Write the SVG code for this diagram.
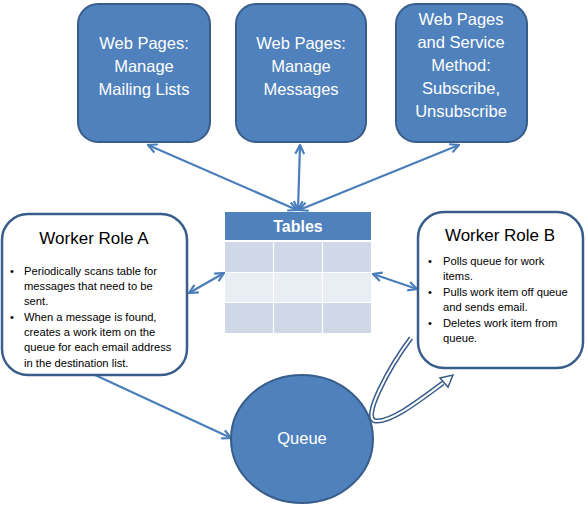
<svg xmlns="http://www.w3.org/2000/svg" width="588" height="505" viewBox="0 0 588 505">
<defs>
<style>
.box{fill:#4f81bd;stroke:#385d8a;stroke-width:2}
.wr{fill:#fff;stroke:#385d8a;stroke-width:2.5}
.wt{font-family:"Liberation Sans",Arial,sans-serif;font-size:16.5px;fill:#fff;text-anchor:middle}
.tt{font-family:"Liberation Sans",Arial,sans-serif;font-size:17px;fill:#000;text-anchor:middle}
.bt{font-family:"Liberation Sans",Arial,sans-serif;font-size:11.2px;fill:#000}
.conn{fill:none;stroke:#4a7ebb;stroke-width:2.2}
</style>
<marker id="ah" viewBox="0 0 10 10" refX="9" refY="5" markerWidth="5" markerHeight="5" orient="auto-start-reverse" markerUnits="strokeWidth">
<path d="M1,1 L9,5 L1,9" fill="none" stroke="#4a7ebb" stroke-width="2"/>
</marker>
</defs>
<g id="connectors">
<line class="conn" x1="297" y1="210" x2="148" y2="145" marker-start="url(#ah)" marker-end="url(#ah)"/>
<line class="conn" x1="298" y1="210" x2="300" y2="145" marker-start="url(#ah)" marker-end="url(#ah)"/>
<line class="conn" x1="299" y1="210" x2="459" y2="145" marker-start="url(#ah)" marker-end="url(#ah)"/>
<line class="conn" x1="189" y1="293" x2="224" y2="273" marker-start="url(#ah)" marker-end="url(#ah)"/>
<line class="conn" x1="373" y1="274" x2="417" y2="289" marker-start="url(#ah)" marker-end="url(#ah)"/>
<line class="conn" x1="95" y1="375" x2="231" y2="438" marker-end="url(#ah)"/>
<g id="hollow-arrow">
<path d="M411,338 C390,366 360,420 376,421 C392,422 420,400 443,383" fill="none" stroke="#385d8a" stroke-width="5"/>
<path d="M411,338 C390,366 360,420 376,421 C392,422 420,400 443,383" fill="none" stroke="#fff" stroke-width="2"/>
<path d="M453,375 L448,387 L440,378 Z" fill="#fff" stroke="#385d8a" stroke-width="1.5" stroke-linejoin="miter"/>
</g>
</g>
<g id="web-mailing">
<rect class="box" x="78" y="4" width="132" height="138" rx="20"/>
<text class="wt" x="144" y="49">Web Pages:</text>
<text class="wt" x="144" y="72">Manage</text>
<text class="wt" x="144" y="95">Mailing Lists</text>
</g>
<g id="web-messages">
<rect class="box" x="236" y="4" width="130" height="138" rx="20"/>
<text class="wt" x="301" y="49">Web Pages:</text>
<text class="wt" x="301" y="72">Manage</text>
<text class="wt" x="301" y="95">Messages</text>
</g>
<g id="web-service">
<rect class="box" x="396" y="4" width="131" height="138" rx="20"/>
<text class="wt" x="461" y="25">Web Pages</text>
<text class="wt" x="461" y="48">and Service</text>
<text class="wt" x="461" y="71">Method:</text>
<text class="wt" x="461" y="94">Subscribe,</text>
<text class="wt" x="461" y="117">Unsubscribe</text>
</g>
<g id="tables">
<rect x="225" y="212" width="146" height="28" fill="#4f81bd"/>
<rect x="225" y="242" width="146" height="30" fill="#d0d8e8"/>
<rect x="225" y="272" width="146" height="30" fill="#e9edf4"/>
<rect x="225" y="302" width="146" height="31" fill="#d0d8e8"/>
<g stroke="#fff" stroke-width="1.2">
<line x1="225" y1="241" x2="371" y2="241"/>
<line x1="225" y1="272.5" x2="371" y2="272.5"/>
<line x1="225" y1="302.5" x2="371" y2="302.5"/>
<line x1="273.5" y1="242" x2="273.5" y2="333"/>
<line x1="322.5" y1="242" x2="322.5" y2="333"/>
</g>
<text x="298" y="232" font-family="'Liberation Sans',Arial,sans-serif" font-size="16px" font-weight="bold" fill="#fff" text-anchor="middle">Tables</text>
</g>
<g id="worker-a">
<rect class="wr" x="2" y="214" width="185" height="161" rx="26"/>
<text class="tt" x="94" y="244">Worker Role A</text>
<g class="bt">
<text x="10" y="275">•</text>
<text x="24" y="275">Periodically scans table for</text>
<text x="24" y="290">messages that need to be</text>
<text x="24" y="305">sent.</text>
<text x="10" y="321">•</text>
<text x="24" y="321">When a message is found,</text>
<text x="24" y="336">creates a work item on the</text>
<text x="24" y="351">queue for each email address</text>
<text x="24" y="367">in the destination list.</text>
</g>
</g>
<g id="worker-b">
<rect class="wr" x="418" y="212" width="165" height="156" rx="26"/>
<text class="tt" x="500" y="241">Worker Role B</text>
<g class="bt">
<text x="428" y="265">•</text>
<text x="443" y="265">Polls queue for work</text>
<text x="443" y="280">items.</text>
<text x="428" y="296">•</text>
<text x="443" y="296">Pulls work item off queue</text>
<text x="443" y="311">and sends email.</text>
<text x="428" y="327">•</text>
<text x="443" y="327">Deletes work item from</text>
<text x="443" y="342">queue.</text>
</g>
</g>
<g id="queue">
<ellipse class="box" cx="302" cy="439" rx="71" ry="64"/>
<text class="wt" x="302" y="444">Queue</text>
</g>
</svg>
